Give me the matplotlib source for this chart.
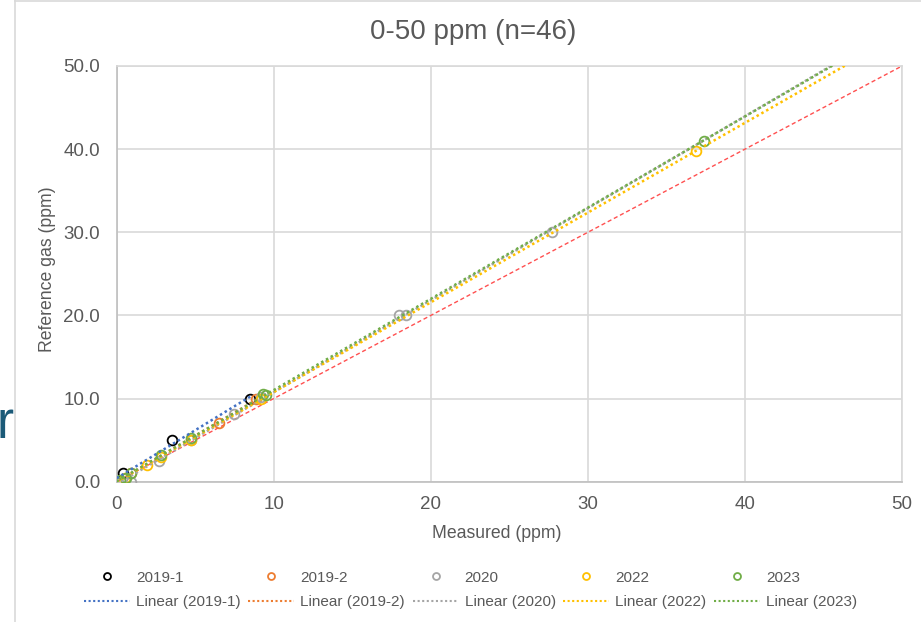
import numpy as np
from matplotlib import pyplot as plt
from matplotlib.lines import Line2D

plt.rcParams["font.family"] = ["Liberation Sans", "DejaVu Sans"]

# measured (x) vs reference gas (y), ppm
x_2019_1 = [0.0, 0.4, 3.5, 8.5]
y_2019_1 = [0.0, 1.0, 5.0, 10.0]

x_2019_2 = [0.0, 0.9, 6.5, 8.9]
y_2019_2 = [0.0, 1.0, 7.0, 10.0]

x_2020 = [0.0, 0.9, 2.7, 4.7, 7.5, 9.2, 18.0, 18.4, 27.7]
y_2020 = [0.0, 0.0, 2.5, 5.0, 8.2, 10.2, 20.0, 20.0, 30.0]

x_2022 = [0.0, 0.5, 1.9, 2.8, 4.7, 9.2, 36.9]
y_2022 = [0.0, 0.5, 2.0, 3.0, 5.0, 10.0, 39.8]

x_2023 = [0.0, 0.2, 0.6, 0.9, 2.8, 4.7, 9.3, 9.5, 37.4]
y_2023 = [0.0, 0.2, 0.5, 1.0, 3.2, 5.3, 10.6, 10.4, 41.0]

names = ["2019-1", "2019-2", "2020", "2022", "2023"]
xs = [x_2019_1, x_2019_2, x_2020, x_2022, x_2023]
ys = [y_2019_1, y_2019_2, y_2020, y_2022, y_2023]
marker_colors = ["#000000", "#ED7D31", "#A5A5A5", "#FFC000", "#70AD47"]
trend_colors = ["#4472C4", "#ED7D31", "#A5A5A5", "#FFC000", "#70AD47"]
# trendline forecast end (None = data range only)
trend_end = [None, None, 50, 50, 50]

fig = plt.figure(figsize=(9.21, 6.22), dpi=100)
ax = fig.add_axes([0.1267, 0.2256, 0.8527, 0.6683])

grid_c = "#D9D9D9"
text_c = "#595959"
dotted = (0, (1.0, 1.2))

# 1:1 line
ax.plot([0, 50], [0, 50], color="#FF5050", lw=1.0, ls=(0, (3, 2)), zorder=2)

handles = []
for name, x, y, mc, tc, end in zip(names, xs, ys, marker_colors, trend_colors, trend_end):
    ax.plot(x, y, ls="none", marker="o", ms=7, mfc="none", mec=mc, mew=1.3, zorder=3)
    k, b = np.polyfit(x, y, 1)
    x_end = max(x) if end is None else end
    xt = np.array([min(x), x_end])
    ax.plot(xt, k * xt + b, color=tc, lw=1.8, ls=dotted,
            dash_capstyle="butt", zorder=4)
    handles.append(Line2D([], [], ls="none", marker="o", ms=5, mfc="none",
                          mec=mc, mew=1.3, label=name))
    handles.append(Line2D([], [], color=tc, lw=1.5, ls=dotted,
                          dash_capstyle="butt", label=f"Linear ({name})"))

ax.set_xlim(0, 50)
ax.set_ylim(0, 50)
ax.set_xticks(range(0, 51, 10))
ax.set_yticks(range(0, 51, 10))
ax.set_yticklabels([f"{v:.1f}" for v in range(0, 51, 10)])
ax.grid(True, color=grid_c, lw=1.2, zorder=0)
ax.set_axisbelow(True)
ax.tick_params(length=0, labelsize=13.5, labelcolor=text_c)
ax.tick_params(axis="x", pad=10)
ax.tick_params(axis="y", pad=12)
for s in ["top", "right"]:
    ax.spines[s].set_color(grid_c)
for s in ["left", "bottom"]:
    ax.spines[s].set_color("#BFBFBF")
for s in ax.spines.values():
    s.set_linewidth(1.2)

ax.set_xlabel("Measured (ppm)", fontsize=12.7, color=text_c)
ax.set_ylabel("Reference gas (ppm)", fontsize=12.7, color=text_c)
ax.xaxis.set_label_coords(0.484, -0.105)
ax.yaxis.set_label_coords(-0.077, 0.51)

fig.text(0.514, 1 - 32 / 622, "0-50 ppm (n=46)", fontsize=20, color=text_c,
         ha="center", va="center")

fig.legend(handles=handles, ncol=5, loc="center", bbox_to_anchor=(0.511, 0.0514),
           frameon=False, fontsize=11, handlelength=3.0, handletextpad=0.4,
           columnspacing=0.5, labelspacing=0.7, labelcolor=text_c)

# chart-area border and slide text peeking in at the left
fig.add_artist(Line2D([15 / 921, 15 / 921], [0, 1], color=grid_c, lw=1.2))
fig.add_artist(Line2D([15 / 921, 1], [1 - 1 / 622, 1 - 1 / 622], color=grid_c, lw=1.2))
fig.text(-3 / 921, 1 - 424 / 622, "r", fontsize=37, color="#1B5A78",
         ha="left", va="center")

fig.savefig("out.png", dpi=100)
